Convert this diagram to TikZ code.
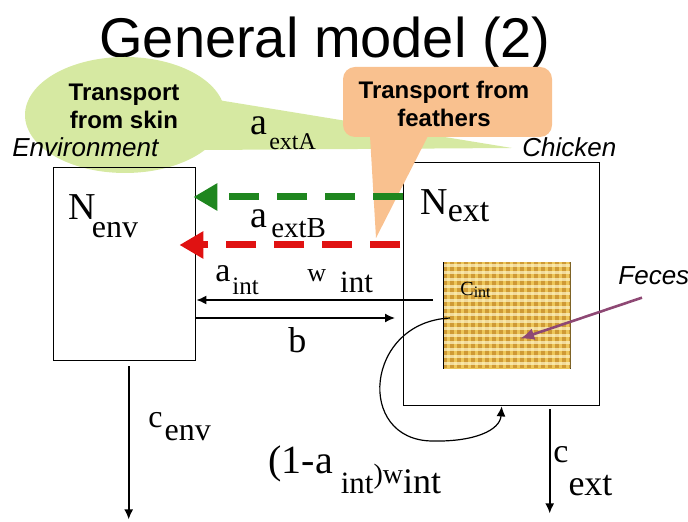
\documentclass[tikz,border=0pt]{standalone}
\usepackage{fontspec}
\setmainfont{Liberation Serif}
\setsansfont{Liberation Sans}
\usetikzlibrary{arrows.meta,positioning,calc}
\definecolor{Skin}{HTML}{D6E9A2}
\definecolor{Feather}{HTML}{F9C18F}
\definecolor{Feces}{HTML}{CF9A35}
\definecolor{FecesMd}{HTML}{EDC65A}
\definecolor{FecesLt}{HTML}{FFF6C8}
\definecolor{ExtA}{HTML}{1F861F}
\definecolor{ExtB}{HTML}{E01212}
\definecolor{Plum}{HTML}{8E4874}
\newcommand\lowsub[3]{\raisebox{-#1}{\fontsize{#2}{#2}\selectfont #3}}

\begin{document}
\begin{tikzpicture}[x=0.5pt,y=-0.5pt,>={Latex[length=5pt,width=4.5pt]},every node/.style={inner sep=0pt},
  lbl/.style={anchor=base west,font=\fontsize{19}{19}\selectfont},
  tag/.style={anchor=base west,font=\sffamily\itshape\fontsize{13}{13}\selectfont},
  say/.style={align=center,font=\sffamily\bfseries\fontsize{12}{14}\selectfont},
  flow/.style={line width=3.5pt,dash pattern=on 15pt off 9pt,-{Triangle[length=12pt,width=13pt]}}]
  \useasboundingbox (0,0) rectangle (688,522);
  \node[anchor=base,font=\sffamily\fontsize{28}{28}\selectfont] (title) at (325,58) {General model (2)};
  % callout from skin
  \fill[Skin] (125,115) ellipse [x radius=100,y radius=58];
  \fill[Skin] (218,100) -- (512,148) -- (205,150) -- cycle;
  \node[say] (skin) at (124,106) {Transport\\from skin};
  % compartments
  \node[draw,line width=0.7pt,anchor=north west,minimum width=71pt,minimum height=96.5pt] (env) at (53,167) {};
  \node[draw,line width=0.7pt,anchor=north west,minimum width=98pt,minimum height=121.5pt] (chick) at (403,162) {};
  \node[draw,line width=0.7pt,anchor=north west,minimum width=63.5pt,minimum height=53pt] (feces) at (443,262) {};
  \begin{scope}
    \clip ($(feces.north west)+(1,1)$) rectangle ($(feces.south east)+(-1,-1)$);
    \fill[FecesMd] (feces.north west) rectangle (feces.south east);
    \foreach \i in {0,...,18} \fill[Feces] ($(feces.north west)+(\i*7,0)$) rectangle +(3.5,106);
    \foreach \j in {0,...,15} \fill[FecesLt,opacity=.7] ($(feces.north west)+(0,\j*7+2)$) rectangle +(127,3);
  \end{scope}
  \node[tag] (envl) at (12,157) {Environment};
  \node[tag] (chickl) at (522,157) {Chicken};
  \node[tag] (fecesl) at (618,285) {Feces};
  % callout from feathers
  \fill[Feather,rounded corners=6pt] (343,67) rectangle (552,137);
  \fill[Feather] (370,136) -- (428,136) -- (376,238) -- cycle;
  \node[say] (feathers) at (444,104) {Transport from\\feathers};
  % labels
  \node[lbl] (Nenv) at (68,220) {N\kern-2pt\lowsub{9pt}{16}{env}};
  \node[lbl] (Next) at (420,215) {N\lowsub{3.5pt}{17}{ext}};
  \node[lbl] (aextA) at (250,135) {a\kern1pt\lowsub{7.5pt}{12}{extA}};
  \node[lbl] (aextB) at (250,228) {a\kern2pt\lowsub{5pt}{14.5}{extB}};
  \node[lbl,font=\fontsize{17}{17}\selectfont] (aint) at (215,282) {a\kern1pt\lowsub{6.5pt}{12.5}{int}};
  \node[lbl,font=\fontsize{13}{13}\selectfont] (wint) at (307,282) {w\kern7pt\lowsub{5.5pt}{15.5}{int}};
  \node[lbl,font=\fontsize{18}{18}\selectfont] (b) at (288,353) {b};
  \node[lbl,font=\fontsize{16}{16}\selectfont] (cenv) at (148,427) {c\kern1pt\lowsub{6.5pt}{16}{env}};
  \node[lbl,font=\fontsize{17}{17}\selectfont] (cext) at (553,462) {c\lowsub{16.5pt}{18}{ext}};
  \node[lbl,font=\fontsize{20}{20}\selectfont] (loopl) at (268,473) {(1-a\kern4pt\lowsub{10pt}{15.5}{int}\lowsub{5pt}{14}{)w}\lowsub{10pt}{18}{int}};
  \node[anchor=base west,font=\fontsize{10}{10}\selectfont] (cint) at (460,296) {C\lowsub{1pt}{8}{int}};
  % flows
  \draw[flow,ExtA] ($(chick.north west)+(0,35)$) -- ($(env.north east)+(-3,30)$);
  \draw[flow,ExtB] ($(chick.north west)+(-3,83)$) -- ($(env.north east)+(-17,78)$);
  \draw[->,line width=0.8pt] ($(feces.north west)+(-10,38)$) -- ($(env.north east)+(0,133)$);
  \draw[->,line width=0.8pt] ($(env.north east)+(0,151)$) -- ($(chick.north west)+(-8,156)$);
  \draw[->,line width=0.8pt] ($(env.south)+(4,5)$) -- ($(env.south)+(4,158)$);
  \draw[->,line width=0.8pt] ($(chick.south)+(48,3)$) -- ($(chick.south)+(48,107)$);
  \coordinate (loopS) at ($(feces.north west)+(7,56)$);
  \coordinate (loopE) at (chick.south);
  \draw[->,line width=0.6pt] (loopS) .. controls (365,322) and (355,440) .. (432,441) .. controls (475,442) and (500,430) .. (loopE);
  \draw[-{Latex[length=7pt,width=6pt]},Plum,line width=1.3pt] ($(fecesl.south west)+(24,12)$) -- ($(feces.center)+(13,23)$);
\end{tikzpicture}
\end{document}
